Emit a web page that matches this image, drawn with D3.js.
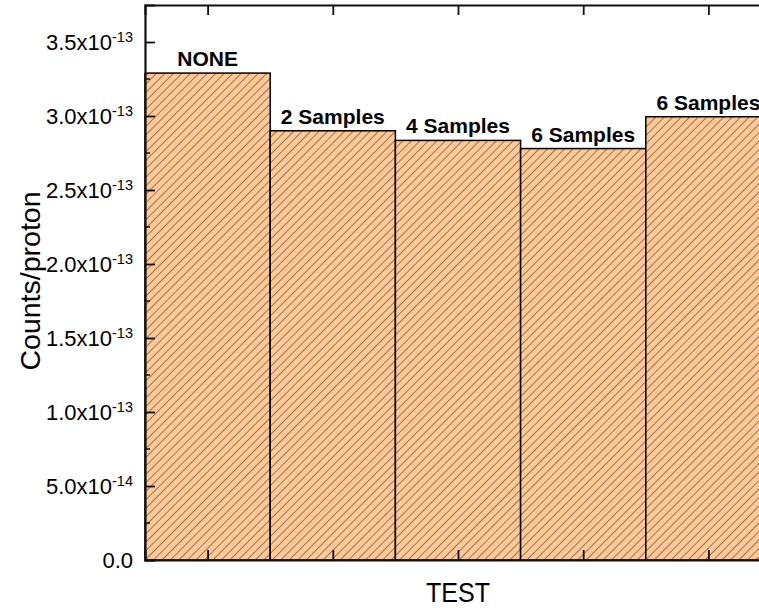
<!DOCTYPE html>
<html>
<head>
<meta charset="utf-8">
<script src="https://cdn.jsdelivr.net/npm/d3@7/dist/d3.min.js"></script>
<style>
  html, body { margin: 0; padding: 0; background: #fff; }
  svg { display: block; font-family: Arial, "Liberation Sans", sans-serif; }
</style>
</head>
<body>
<svg id="chart" width="759" height="608"></svg>
<script>
// Data
const categories = ["NONE", "2 Samples", "4 Samples", "6 Samples", "6 Samples"];
const values = [3.29e-13, 2.90e-13, 2.835e-13, 2.78e-13, 2.995e-13];
const yTicks = [0, 0.5e-13, 1.0e-13, 1.5e-13, 2.0e-13, 2.5e-13, 3.0e-13, 3.5e-13];
const yTickLabels = [["0.0", ""], ["5.0x10", "-14"], ["1.0x10", "-13"], ["1.5x10", "-13"],
                     ["2.0x10", "-13"], ["2.5x10", "-13"], ["3.0x10", "-13"], ["3.5x10", "-13"]];
const xTitle = "TEST";
const yTitle = "Counts/proton";

const svg = d3.select("#chart");
const margin = { left: 145, top: 5, bottom: 560 };
const plotRight = 771;

const positions = categories.map((d, i) => i + 1);
const x = d3.scaleLinear().domain([0.5, 5.5]).range([margin.left, plotRight]);
const y = d3.scaleLinear().domain([0, 3.75e-13]).range([margin.bottom, margin.top]);

// Diagonal hatch pattern
const defs = svg.append("defs");
const pat = defs.append("pattern")
  .attr("id", "hatch")
  .attr("patternUnits", "userSpaceOnUse")
  .attr("width", 6).attr("height", 6)
  .attr("patternTransform", "rotate(45)");
pat.append("rect").attr("width", 6).attr("height", 6).attr("fill", "#ffc895");
pat.append("line")
  .attr("x1", 0).attr("y1", 0).attr("x2", 0).attr("y2", 6)
  .attr("stroke", "#3e3128").attr("stroke-width", 1.1);

// Bars
const barW = x(1.5) - x(0.5);
svg.append("g").selectAll("rect")
  .data(values)
  .join("rect")
  .attr("x", (d, i) => x(positions[i]) - barW / 2)
  .attr("y", d => y(d))
  .attr("width", barW)
  .attr("height", d => y(0) - y(d))
  .attr("fill", "url(#hatch)")
  .attr("stroke", "#000")
  .attr("stroke-width", 1.5);

// Bar labels
svg.append("g").selectAll("text")
  .data(values)
  .join("text")
  .attr("x", (d, i) => x(positions[i]))
  .attr("y", d => y(d) - 7)
  .attr("text-anchor", "middle")
  .attr("font-size", 21)
  .attr("font-weight", "bold")
  .attr("fill", "#000")
  .text((d, i) => categories[i]);

// Left axis with inward ticks
const yAxis = d3.axisLeft(y).tickValues(yTicks).tickSize(-10).tickFormat("");
const gy = svg.append("g").attr("transform", `translate(${margin.left},0)`).call(yAxis);
gy.select(".domain").attr("stroke-width", 2.2).attr("stroke", "#111");
gy.selectAll(".tick line").attr("stroke-width", 1.8).attr("stroke", "#111");

// Minor ticks halfway between the labelled ones
const minorTicks = yTicks.slice(0, -1).map(v => v + 0.25e-13);
svg.append("g").selectAll("line")
  .data(minorTicks)
  .join("line")
  .attr("x1", margin.left).attr("x2", margin.left + 5)
  .attr("y1", d => y(d)).attr("y2", d => y(d))
  .attr("stroke", "#111").attr("stroke-width", 1.5);

// Y tick labels with superscript exponents
const labels = svg.append("g");
yTicks.forEach((v, i) => {
  const t = labels.append("text")
    .attr("x", 133)
    .attr("y", y(v) + 8)
    .attr("text-anchor", "end")
    .attr("font-size", 22)
    .attr("fill", "#000");
  t.append("tspan").text(yTickLabels[i][0]);
  if (yTickLabels[i][1]) {
    t.append("tspan").attr("dy", -8).attr("font-size", 14.5).text(yTickLabels[i][1]);
  }
});

// Bottom axis with inward ticks at bar centres
const xAxis = d3.axisBottom(x).tickValues(positions).tickSize(-10).tickFormat("");
const gx = svg.append("g").attr("transform", `translate(0,${margin.bottom})`).call(xAxis);
gx.select(".domain").attr("stroke-width", 2.2).attr("stroke", "#111");
gx.selectAll(".tick line").attr("stroke-width", 1.8).attr("stroke", "#111");

// Top axis mirror ticks
const xTop = d3.axisTop(x).tickValues(positions).tickSize(-10).tickFormat("");
const gt = svg.append("g").attr("transform", `translate(0,${margin.top})`).call(xTop);
gt.select(".domain").attr("stroke-width", 2).attr("stroke", "#111");
gt.selectAll(".tick line").attr("stroke-width", 1.8).attr("stroke", "#111");

// Axis titles
svg.append("text")
  .attr("x", (margin.left + plotRight) / 2)
  .attr("y", 602)
  .attr("text-anchor", "middle")
  .attr("font-size", 27)
  .attr("textLength", 64)
  .attr("lengthAdjust", "spacingAndGlyphs")
  .text(xTitle);

svg.append("text")
  .attr("transform", `translate(40,${281}) rotate(-90)`)
  .attr("text-anchor", "middle")
  .attr("font-size", 28.5)
  .text(yTitle);
</script>
</body>
</html>
